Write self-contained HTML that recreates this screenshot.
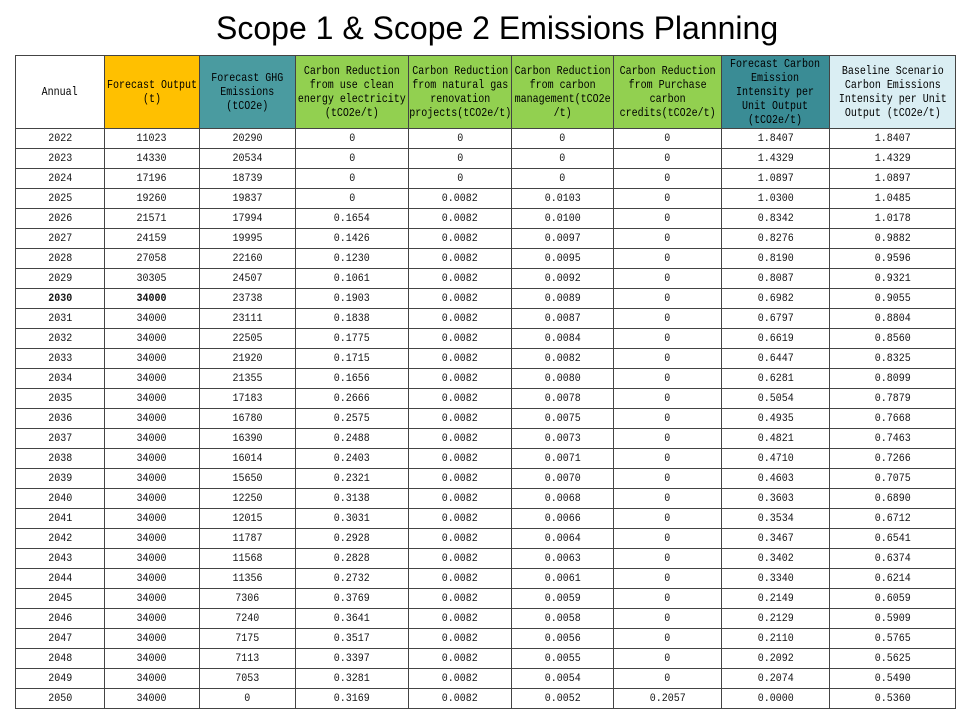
<!DOCTYPE html>
<html><head><meta charset="utf-8">
<style>
html,body{margin:0;padding:0;background:#fff;width:960px;height:720px;overflow:hidden;}
.t{position:absolute;left:216px;top:12px;font:32px/32px "Liberation Sans",sans-serif;color:#000;white-space:nowrap;}
.g{position:absolute;left:15px;top:55px;display:grid;grid-template-columns:88px 94px 95px 112px 102px 101px 107px 107px 125px;grid-template-rows:72px repeat(29,19px);gap:1px;padding:1px;background:#444;}
.g>div{background:#fff;display:flex;align-items:center;justify-content:center;text-align:center;overflow:visible;white-space:nowrap;color:#111;}
.g>div>span{display:inline-block;transform:scaleX(.909);font:11px/12px "Liberation Mono",monospace;}
.g>div.h>span{transform:scaleX(.833);font:12px/14px "Liberation Mono",monospace;color:#000;}
.g>div.b>span{font-weight:bold;}
.o{background:#FFC000!important;}
.tl{background:#4A9BA0!important;}
.gr{background:#92D050!important;}
.dt{background:#3A8C95!important;}
.lb{background:#DAEEF3!important;}
</style></head><body>
<div class="t">Scope 1 &amp; Scope 2 Emissions Planning</div>
<div class="g">
<div class="h"><span>Annual</span></div>
<div class="h o"><span>Forecast Output<br>(t)</span></div>
<div class="h tl"><span>Forecast GHG<br>Emissions<br>(tCO2e)</span></div>
<div class="h gr"><span>Carbon Reduction<br>from use clean<br>energy electricity<br>(tCO2e/t)</span></div>
<div class="h gr"><span>Carbon Reduction<br>from natural gas<br>renovation<br>projects(tCO2e/t)</span></div>
<div class="h gr"><span>Carbon Reduction<br>from carbon<br>management(tCO2e<br>/t)</span></div>
<div class="h gr"><span>Carbon Reduction<br>from Purchase<br>carbon<br>credits(tCO2e/t)</span></div>
<div class="h dt"><span>Forecast Carbon<br>Emission<br>Intensity per<br>Unit Output<br>(tCO2e/t)</span></div>
<div class="h lb"><span>Baseline Scenario<br>Carbon Emissions<br>Intensity per Unit<br>Output (tCO2e/t)</span></div>

<div><span>2022</span></div><div><span>11023</span></div><div><span>20290</span></div><div><span>0</span></div><div><span>0</span></div><div><span>0</span></div><div><span>0</span></div><div><span>1.8407</span></div><div><span>1.8407</span></div>
<div><span>2023</span></div><div><span>14330</span></div><div><span>20534</span></div><div><span>0</span></div><div><span>0</span></div><div><span>0</span></div><div><span>0</span></div><div><span>1.4329</span></div><div><span>1.4329</span></div>
<div><span>2024</span></div><div><span>17196</span></div><div><span>18739</span></div><div><span>0</span></div><div><span>0</span></div><div><span>0</span></div><div><span>0</span></div><div><span>1.0897</span></div><div><span>1.0897</span></div>
<div><span>2025</span></div><div><span>19260</span></div><div><span>19837</span></div><div><span>0</span></div><div><span>0.0082</span></div><div><span>0.0103</span></div><div><span>0</span></div><div><span>1.0300</span></div><div><span>1.0485</span></div>
<div><span>2026</span></div><div><span>21571</span></div><div><span>17994</span></div><div><span>0.1654</span></div><div><span>0.0082</span></div><div><span>0.0100</span></div><div><span>0</span></div><div><span>0.8342</span></div><div><span>1.0178</span></div>
<div><span>2027</span></div><div><span>24159</span></div><div><span>19995</span></div><div><span>0.1426</span></div><div><span>0.0082</span></div><div><span>0.0097</span></div><div><span>0</span></div><div><span>0.8276</span></div><div><span>0.9882</span></div>
<div><span>2028</span></div><div><span>27058</span></div><div><span>22160</span></div><div><span>0.1230</span></div><div><span>0.0082</span></div><div><span>0.0095</span></div><div><span>0</span></div><div><span>0.8190</span></div><div><span>0.9596</span></div>
<div><span>2029</span></div><div><span>30305</span></div><div><span>24507</span></div><div><span>0.1061</span></div><div><span>0.0082</span></div><div><span>0.0092</span></div><div><span>0</span></div><div><span>0.8087</span></div><div><span>0.9321</span></div>
<div class="b"><span>2030</span></div><div class="b"><span>34000</span></div><div><span>23738</span></div><div><span>0.1903</span></div><div><span>0.0082</span></div><div><span>0.0089</span></div><div><span>0</span></div><div><span>0.6982</span></div><div><span>0.9055</span></div>
<div><span>2031</span></div><div><span>34000</span></div><div><span>23111</span></div><div><span>0.1838</span></div><div><span>0.0082</span></div><div><span>0.0087</span></div><div><span>0</span></div><div><span>0.6797</span></div><div><span>0.8804</span></div>
<div><span>2032</span></div><div><span>34000</span></div><div><span>22505</span></div><div><span>0.1775</span></div><div><span>0.0082</span></div><div><span>0.0084</span></div><div><span>0</span></div><div><span>0.6619</span></div><div><span>0.8560</span></div>
<div><span>2033</span></div><div><span>34000</span></div><div><span>21920</span></div><div><span>0.1715</span></div><div><span>0.0082</span></div><div><span>0.0082</span></div><div><span>0</span></div><div><span>0.6447</span></div><div><span>0.8325</span></div>
<div><span>2034</span></div><div><span>34000</span></div><div><span>21355</span></div><div><span>0.1656</span></div><div><span>0.0082</span></div><div><span>0.0080</span></div><div><span>0</span></div><div><span>0.6281</span></div><div><span>0.8099</span></div>
<div><span>2035</span></div><div><span>34000</span></div><div><span>17183</span></div><div><span>0.2666</span></div><div><span>0.0082</span></div><div><span>0.0078</span></div><div><span>0</span></div><div><span>0.5054</span></div><div><span>0.7879</span></div>
<div><span>2036</span></div><div><span>34000</span></div><div><span>16780</span></div><div><span>0.2575</span></div><div><span>0.0082</span></div><div><span>0.0075</span></div><div><span>0</span></div><div><span>0.4935</span></div><div><span>0.7668</span></div>
<div><span>2037</span></div><div><span>34000</span></div><div><span>16390</span></div><div><span>0.2488</span></div><div><span>0.0082</span></div><div><span>0.0073</span></div><div><span>0</span></div><div><span>0.4821</span></div><div><span>0.7463</span></div>
<div><span>2038</span></div><div><span>34000</span></div><div><span>16014</span></div><div><span>0.2403</span></div><div><span>0.0082</span></div><div><span>0.0071</span></div><div><span>0</span></div><div><span>0.4710</span></div><div><span>0.7266</span></div>
<div><span>2039</span></div><div><span>34000</span></div><div><span>15650</span></div><div><span>0.2321</span></div><div><span>0.0082</span></div><div><span>0.0070</span></div><div><span>0</span></div><div><span>0.4603</span></div><div><span>0.7075</span></div>
<div><span>2040</span></div><div><span>34000</span></div><div><span>12250</span></div><div><span>0.3138</span></div><div><span>0.0082</span></div><div><span>0.0068</span></div><div><span>0</span></div><div><span>0.3603</span></div><div><span>0.6890</span></div>
<div><span>2041</span></div><div><span>34000</span></div><div><span>12015</span></div><div><span>0.3031</span></div><div><span>0.0082</span></div><div><span>0.0066</span></div><div><span>0</span></div><div><span>0.3534</span></div><div><span>0.6712</span></div>
<div><span>2042</span></div><div><span>34000</span></div><div><span>11787</span></div><div><span>0.2928</span></div><div><span>0.0082</span></div><div><span>0.0064</span></div><div><span>0</span></div><div><span>0.3467</span></div><div><span>0.6541</span></div>
<div><span>2043</span></div><div><span>34000</span></div><div><span>11568</span></div><div><span>0.2828</span></div><div><span>0.0082</span></div><div><span>0.0063</span></div><div><span>0</span></div><div><span>0.3402</span></div><div><span>0.6374</span></div>
<div><span>2044</span></div><div><span>34000</span></div><div><span>11356</span></div><div><span>0.2732</span></div><div><span>0.0082</span></div><div><span>0.0061</span></div><div><span>0</span></div><div><span>0.3340</span></div><div><span>0.6214</span></div>
<div><span>2045</span></div><div><span>34000</span></div><div><span>7306</span></div><div><span>0.3769</span></div><div><span>0.0082</span></div><div><span>0.0059</span></div><div><span>0</span></div><div><span>0.2149</span></div><div><span>0.6059</span></div>
<div><span>2046</span></div><div><span>34000</span></div><div><span>7240</span></div><div><span>0.3641</span></div><div><span>0.0082</span></div><div><span>0.0058</span></div><div><span>0</span></div><div><span>0.2129</span></div><div><span>0.5909</span></div>
<div><span>2047</span></div><div><span>34000</span></div><div><span>7175</span></div><div><span>0.3517</span></div><div><span>0.0082</span></div><div><span>0.0056</span></div><div><span>0</span></div><div><span>0.2110</span></div><div><span>0.5765</span></div>
<div><span>2048</span></div><div><span>34000</span></div><div><span>7113</span></div><div><span>0.3397</span></div><div><span>0.0082</span></div><div><span>0.0055</span></div><div><span>0</span></div><div><span>0.2092</span></div><div><span>0.5625</span></div>
<div><span>2049</span></div><div><span>34000</span></div><div><span>7053</span></div><div><span>0.3281</span></div><div><span>0.0082</span></div><div><span>0.0054</span></div><div><span>0</span></div><div><span>0.2074</span></div><div><span>0.5490</span></div>
<div><span>2050</span></div><div><span>34000</span></div><div><span>0</span></div><div><span>0.3169</span></div><div><span>0.0082</span></div><div><span>0.0052</span></div><div><span>0.2057</span></div><div><span>0.0000</span></div><div><span>0.5360</span></div>
</div>
</body></html>
